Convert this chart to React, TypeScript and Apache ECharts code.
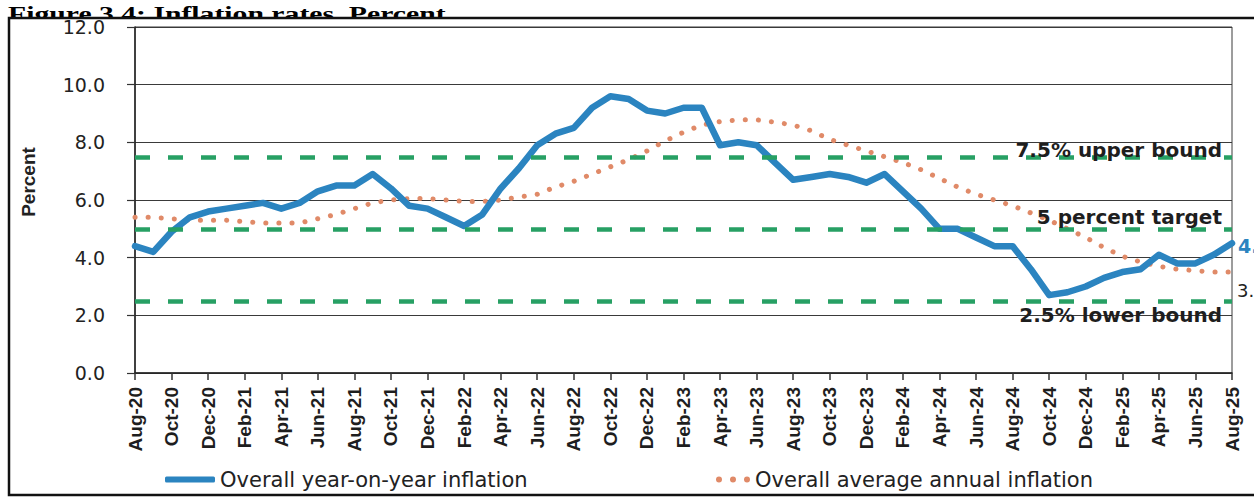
import React, { useEffect, useRef } from "react";
import * as echarts from "echarts";

// Monthly categories, Aug-20 through Aug-25
const MONTH_ABBR = ["Jan", "Feb", "Mar", "Apr", "May", "Jun", "Jul", "Aug", "Sep", "Oct", "Nov", "Dec"];

// Overall year-on-year inflation, percent
const yoyInflation = [
  4.4, 4.2, 4.9, 5.4, 5.6,
  5.7, 5.8, 5.9, 5.7, 5.9, 6.3, 6.5, 6.5, 6.9, 6.4, 5.8, 5.7,
  5.4, 5.1, 5.5, 6.4, 7.1, 7.9, 8.3, 8.5, 9.2, 9.6, 9.5, 9.1,
  9.0, 9.2, 9.2, 7.9, 8.0, 7.9, 7.3, 6.7, 6.8, 6.9, 6.8, 6.6,
  6.9, 6.3, 5.7, 5.0, 5.0, 4.7, 4.4, 4.4, 3.6, 2.7, 2.8, 3.0,
  3.3, 3.5, 3.6, 4.1, 3.8, 3.8, 4.1, 4.5,
];

// Overall average annual inflation, percent
const avgAnnualInflation = [
  5.4, 5.4, 5.35, 5.3, 5.3,
  5.3, 5.25, 5.2, 5.2, 5.2, 5.35, 5.5, 5.7, 5.9, 6.0, 6.05, 6.05,
  6.0, 5.95, 5.95, 6.0, 6.1, 6.2, 6.45, 6.65, 6.9, 7.15, 7.4, 7.7,
  8.05, 8.35, 8.6, 8.72, 8.78, 8.78, 8.7, 8.6, 8.4, 8.1, 7.9, 7.7,
  7.5, 7.3, 7.05, 6.75, 6.45, 6.2, 6.0, 5.8, 5.55, 5.3, 5.0, 4.7,
  4.35, 4.05, 3.85, 3.7, 3.6, 3.55, 3.5, 3.5,
];

// Policy band
const upperBound = 7.5;
const target = 5;
const lowerBound = 2.5;

// Y axis range
const yMin = 0;
const yMax = 12;
const yStep = 2;

const categories: string[] = [];
for (let i = 0; i < yoyInflation.length; i++) {
  const k = 7 + i;
  categories.push(`${MONTH_ABBR[k % 12]}-${20 + Math.floor(k / 12)}`);
}

const BLUE = "#2b84c0";
const ORANGE = "#e08a68";
const GREEN = "#27a064";
const INK = "#1e1e1e";
const SANS = '"Liberation Sans", Arial, sans-serif';
const WIDE = '"DejaVu Sans", sans-serif';

const lastValue = (p: any) => {
  const v = Array.isArray(p.value) ? p.value[1] : p.value;
  return Number(v).toFixed(1);
};

export default function App() {
  const ref = useRef<HTMLDivElement>(null);

  useEffect(() => {
    const chart = echarts.init(ref.current!, null, { renderer: "svg" });
    chart.setOption({
      animation: false,
      backgroundColor: "#ffffff",
      grid: {
        left: 135,
        right: 22,
        top: 27,
        bottom: 127,
        show: true,
        borderColor: "#3a3a3a",
        borderWidth: 1,
        backgroundColor: "transparent",
      },
      xAxis: {
        type: "category",
        data: categories,
        boundaryGap: false,
        axisLine: { lineStyle: { color: "#222", width: 1.5 } },
        axisTick: { show: true, interval: 1, length: 7, lineStyle: { color: "#333", width: 1.5 } },
        axisLabel: {
          interval: 1,
          rotate: 90,
          margin: 14,
          fontFamily: SANS,
          fontWeight: "bold",
          fontSize: 19,
          color: INK,
        },
        splitLine: { show: false },
      },
      yAxis: {
        type: "value",
        min: yMin,
        max: yMax,
        interval: yStep,
        axisLine: { show: true, lineStyle: { color: "#222", width: 1.5 } },
        axisTick: { show: true, length: 8, lineStyle: { color: "#333", width: 1.2 } },
        axisLabel: {
          margin: 30,
          formatter: (v: number) => v.toFixed(1),
          fontFamily: WIDE,
          fontSize: 19,
          color: "#222",
        },
        splitLine: { lineStyle: { color: "#3a3a3a", width: 1.2 } },
      },
      legend: [
        {
          data: [
            {
              name: "Overall year-on-year inflation",
              icon: "roundRect",
              itemStyle: { color: BLUE, borderWidth: 0 },
            },
          ],
          left: 165,
          top: 469,
          padding: 0,
          itemWidth: 50,
          itemHeight: 6,
          selectedMode: false,
          textStyle: { fontFamily: WIDE, fontSize: 21, color: "#222" },
        },
        {
          data: [
            {
              name: "Overall average annual inflation",
              icon:
                "path://M0,3a3,3 0 1,0 6,0a3,3 0 1,0 -6,0zM14,3a3,3 0 1,0 6,0a3,3 0 1,0 -6,0zM28,3a3,3 0 1,0 6,0a3,3 0 1,0 -6,0z",
              itemStyle: { color: ORANGE, borderWidth: 0 },
            },
          ],
          left: 716,
          top: 469,
          padding: 0,
          itemWidth: 34,
          itemHeight: 6,
          selectedMode: false,
          textStyle: { fontFamily: WIDE, fontSize: 21, color: "#222" },
        },
      ],
      graphic: [
        {
          type: "text",
          z: -10,
          x: 8,
          y: 3,
          scaleX: 1.35,
          style: {
            text: "Figure 3.4: Inflation rates, Percent",
            fontFamily: '"Liberation Serif", "Times New Roman", serif',
            fontWeight: "bold",
            fontSize: 22,
            fill: "#000",
            align: "left",
            verticalAlign: "top",
          },
        },
        {
          type: "rect",
          z: -9,
          shape: { x: 9, y: 18, width: 1300, height: 477 },
          style: { fill: "#ffffff", stroke: "#111", lineWidth: 2.5 },
        },
        {
          type: "text",
          x: 28,
          y: 182,
          rotation: Math.PI / 2,
          style: {
            text: "Percent",
            fontFamily: SANS,
            fontWeight: "bold",
            fontSize: 19,
            fill: "#222",
            align: "center",
            verticalAlign: "middle",
          },
        },
      ],
      series: [
        {
          name: "Overall average annual inflation",
          type: "line",
          data: avgAnnualInflation,
          showSymbol: false,
          symbol: "none",
          z: 3,
          itemStyle: { color: ORANGE },
          lineStyle: { color: ORANGE, width: 5, type: [0.1, 13], cap: "round" },
          endLabel: {
            show: true,
            formatter: lastValue,
            color: "#222",
            fontFamily: WIDE,
            fontSize: 18,
            distance: 5,
            offset: [0, 18],
          },
          markLine: {
            silent: true,
            symbol: "none",
            animation: false,
            lineStyle: { color: GREEN, width: 4.5, type: [15, 18] },
            label: {
              show: true,
              fontFamily: WIDE,
              fontWeight: "bold",
              fontSize: 20,
              color: INK,
            },
            data: [
              {
                yAxis: upperBound,
                label: {
                  formatter: `${upperBound}% upper bound`,
                  position: "insideEndTop",
                  distance: [10, -3],
                },
              },
              {
                yAxis: target,
                label: {
                  formatter: `${target} percent target`,
                  position: "insideEndTop",
                  distance: [10, 2],
                },
              },
              {
                yAxis: lowerBound,
                label: {
                  formatter: `${lowerBound}% lower bound`,
                  position: "insideEndBottom",
                  distance: [10, 4],
                },
              },
            ],
          },
        },
        {
          name: "Overall year-on-year inflation",
          type: "line",
          data: yoyInflation,
          showSymbol: false,
          symbol: "none",
          z: 4,
          itemStyle: { color: BLUE },
          lineStyle: { color: BLUE, width: 6.5, join: "round", cap: "round" },
          endLabel: {
            show: true,
            formatter: lastValue,
            color: BLUE,
            fontFamily: WIDE,
            fontWeight: "bold",
            fontSize: 19,
            distance: 6,
            offset: [0, 3],
          },
        },
      ],
    });
    return () => chart.dispose();
  }, []);

  return (
    <div
      ref={ref}
      style={{ position: "fixed", left: 0, top: 0, width: 1254, height: 500, background: "#fff" }}
    />
  );
}
